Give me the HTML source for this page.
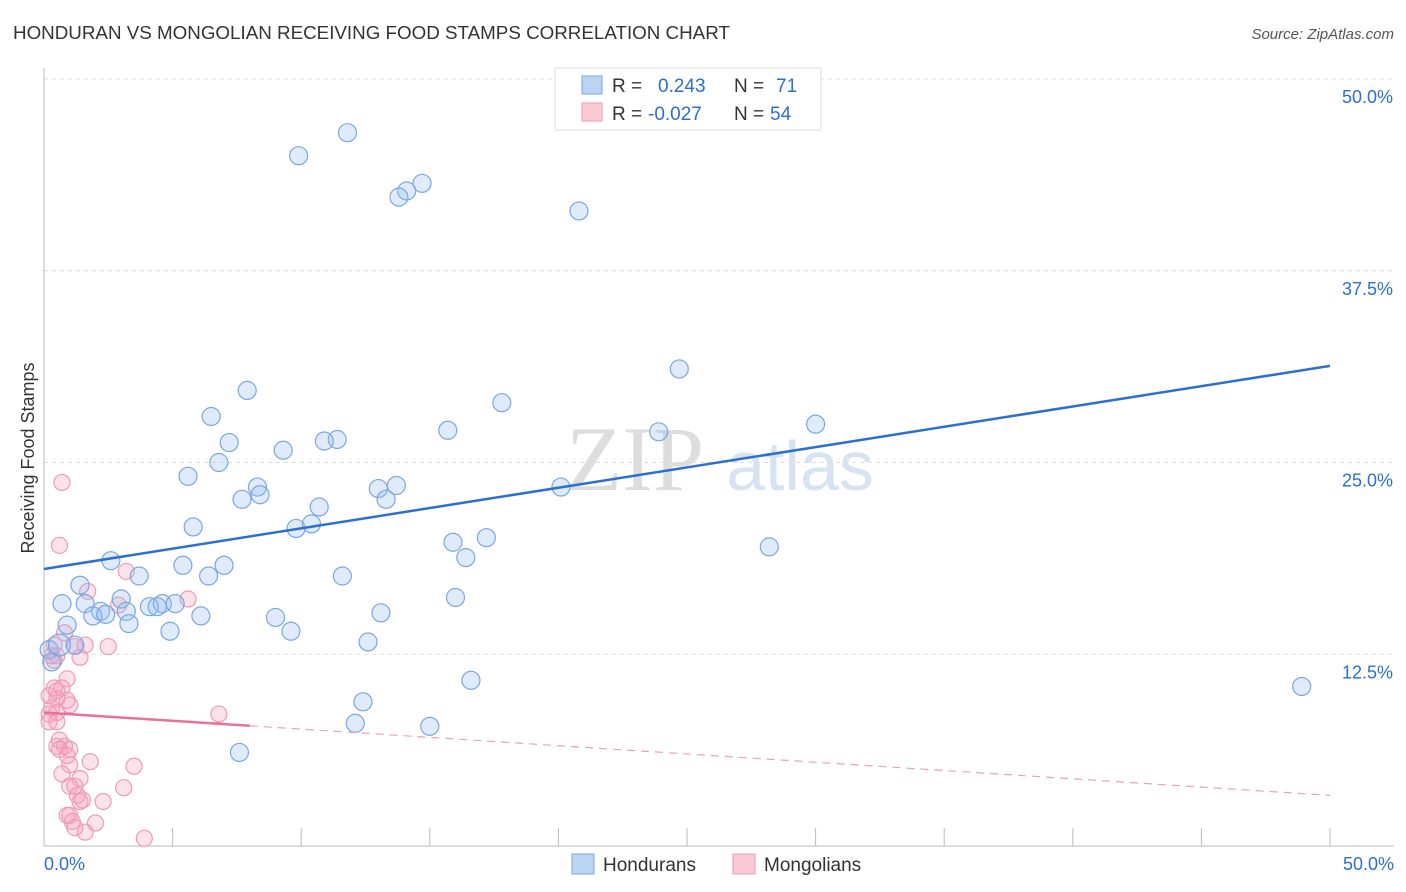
<!DOCTYPE html>
<html><head><meta charset="utf-8"><style>
body{margin:0;background:#fff;font-family:"Liberation Sans",sans-serif;}
svg{display:block}
</style></head><body>
<svg id="c" width="1406" height="892">
<text x="13" y="39" font-size="18.8" fill="#333">HONDURAN VS MONGOLIAN RECEIVING FOOD STAMPS CORRELATION CHART</text>
<text x="1394" y="39" font-size="15" fill="#555" font-style="italic" text-anchor="end">Source: ZipAtlas.com</text>
<text x="34" y="458" font-size="18" fill="#333" transform="rotate(-90 34 458)" text-anchor="middle">Receiving Food Stamps</text>
<g>
<text x="635" y="490" font-size="92" fill="#ddd" text-anchor="middle" font-family="Liberation Serif">ZIP</text>
<text x="800" y="490" font-size="70" fill="#d5e3f3" text-anchor="middle">atlas</text>
</g>
<g id="grid"></g><g id="pts"></g><g id="lines"></g>
<g>
<rect x="555" y="68" width="266" height="62" fill="#fff" stroke="#ddd"/>
<rect x="582" y="76" width="20" height="18" fill="#bcd4f3" stroke="#7aa6e0"/>
<rect x="582" y="103" width="20" height="18" fill="#f9c9d6" stroke="#ee9ab3"/>
<text x="612" y="92" font-size="19" fill="#333">R =</text><text x="658" y="92" font-size="19" fill="#2b6fd0">0.243</text>
<text x="734" y="92" font-size="19" fill="#333">N =</text><text x="776" y="92" font-size="19" fill="#2b6fd0">71</text>
<text x="612" y="120" font-size="19" fill="#333">R =</text><text x="648" y="120" font-size="19" fill="#2b6fd0">-0.027</text>
<text x="734" y="120" font-size="19" fill="#333">N =</text><text x="770" y="120" font-size="19" fill="#2b6fd0">54</text>
</g>
<g>
<rect x="572" y="854" width="22" height="20" fill="#bcd4f3" stroke="#7aa6e0"/>
<text x="603" y="871" font-size="19" fill="#333">Hondurans</text>
<rect x="733" y="854" width="22" height="20" fill="#f9c9d6" stroke="#ee9ab3"/>
<text x="764" y="871" font-size="19" fill="#333">Mongolians</text>
</g>
</svg>
<script>
const yTicks=[12.5,25,37.5,50];
const yTickLabels=["12.5%","25.0%","37.5%","50.0%"];
const xTickLabels=["0.0%","50.0%"];
const blueX=[11.8,9.9,14.7,14.1,13.8,20.8,24.7,7.9,17.8,6.5,15.7,23.9,30.0,7.2,11.4,10.9,9.3,6.8,5.6,8.3,13.0,13.7,7.7,8.4,13.3,10.7,20.1,5.8,9.8,10.4,15.9,17.2,28.2,16.4,2.6,5.4,7.0,1.4,3.7,6.4,11.6,0.7,1.6,3.0,16.0,4.6,5.1,4.1,4.4,2.2,3.2,1.9,2.4,6.1,13.1,9.0,3.3,0.9,4.9,9.6,1.2,12.6,0.2,0.3,16.6,48.9,12.4,12.1,15.0,7.6,0.6];
const blueY=[46.5,45.0,43.2,42.7,42.3,41.4,31.1,29.7,28.9,28.0,27.1,27.0,27.5,26.3,26.5,26.4,25.8,25.0,24.1,23.4,23.3,23.5,22.6,22.9,22.6,22.1,23.4,20.8,20.7,21.0,19.8,20.1,19.5,18.8,18.6,18.3,18.3,17.0,17.6,17.6,17.6,15.8,15.8,16.1,16.2,15.8,15.8,15.6,15.6,15.3,15.3,15.0,15.1,15.0,15.2,14.9,14.5,14.4,14.0,14.0,13.1,13.3,12.8,12.0,10.8,10.4,9.4,8.0,7.8,6.1,13.1];
const pinkX=[0.7,0.6,3.2,1.7,5.6,2.9,0.8,0.4,1.2,1.6,2.5,0.3,1.4,0.5,0.9,0.4,0.7,0.2,0.5,1.0,0.3,0.2,0.5,6.8,0.2,0.6,0.5,0.8,1.0,0.9,1.8,1.0,3.5,0.7,1.4,3.1,1.0,1.3,1.4,1.5,2.3,0.9,1.0,1.1,2.0,1.6,3.9,1.2,0.4,0.9,0.5,1.2,0.6,0.5];
const pinkY=[23.7,19.6,17.9,16.6,16.1,15.7,13.9,13.1,13.0,13.1,13.0,12.4,12.3,12.4,10.9,10.3,10.3,9.8,9.6,9.2,9.0,8.6,8.7,8.6,8.1,6.9,6.5,6.5,6.3,5.9,5.5,5.3,5.2,4.7,4.4,3.8,3.9,3.3,2.9,3.0,2.9,2.0,2.0,1.6,1.5,0.9,0.5,1.2,12.1,9.5,10.1,3.9,6.3,8.1];
const blueFit=[18.06,31.3], pinkFit=[8.7,3.3], pinkSolidEnd=8;
const X=v=>44+v*25.72, Y=v=>846-v*15.34;
const ns="http://www.w3.org/2000/svg";
function mk(t,a,p){const e=document.createElementNS(ns,t);for(const k in a)e.setAttribute(k,a[k]);p.appendChild(e);return e;}
const g=document.getElementById('grid');
yTicks.forEach((t,i)=>{
 const l=mk('line',{x1:44,x2:1394,y1:Y(t),y2:Y(t),stroke:'#ddd','stroke-dasharray':'4,4'},g);
 
 
 const tx=mk('text',{x:1393,y:Y(t)+24,'font-size':18,fill:'#2b6fd0','text-anchor':'end'},g);tx.textContent=yTickLabels[i];
 
 
});
const ax=mk('line',{x1:44,x2:1394,y1:846,y2:846,stroke:'#bbb'},g);


const ay=mk('line',{x1:44,x2:44,y1:68,y2:846,stroke:'#bbb'},g);


for(let i=0;i<=10;i++){const t=mk('line',{x1:X(i*5),x2:X(i*5),y1:828,y2:846,stroke:'#bbb'},g);
 
 }
[[0,44,'start'],[1,1394,'end']].forEach(([i,x,a])=>{const t=mk('text',{x:x,y:870,'font-size':18,fill:'#2b6fd0','text-anchor':a},g);t.textContent=xTickLabels[i];
 
 });
const p=document.getElementById('pts');
pinkX.forEach((v,i)=>{const c=mk('circle',{cx:X(v),cy:Y(pinkY[i]),r:8,fill:'rgba(245,160,190,0.3)',stroke:'#ef9ab5','stroke-width':1.2},p);
 
 });
blueX.forEach((v,i)=>{const c=mk('circle',{cx:X(v),cy:Y(blueY[i]),r:(i==blueX.length-1?11:9),fill:'rgba(150,190,240,0.3)',stroke:'#7aa6e0','stroke-width':1.2},p);
 
 });
const L=document.getElementById('lines');
const b=mk('line',{x1:X(0),y1:Y(blueFit[0]),x2:X(50),y2:Y(blueFit[1]),stroke:'#2b6fd0','stroke-width':2.5},L);


const py=x=>pinkFit[0]+(pinkFit[1]-pinkFit[0])*x/50;
const ps=mk('line',{x1:X(0),y1:Y(py(0)),x2:X(pinkSolidEnd),y2:Y(py(pinkSolidEnd)),stroke:'#e8709a','stroke-width':2.5},L);


const pd=mk('line',{x1:X(pinkSolidEnd),y1:Y(py(pinkSolidEnd)),x2:X(50),y2:Y(py(50)),stroke:'#eba0b8','stroke-width':1.2,'stroke-dasharray':'8,6'},L);


</script>
</body></html>
